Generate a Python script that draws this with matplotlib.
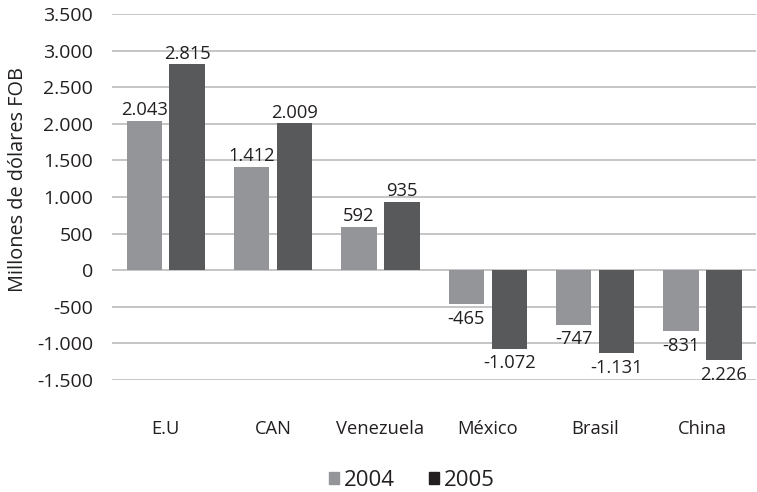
import matplotlib
matplotlib.use("Agg")
import matplotlib.pyplot as plt
import numpy as np
from matplotlib.patches import Patch

plt.rcParams['font.family'] = ['Open Sans', 'DejaVu Sans']

categories = ["E.U", "CAN", "Venezuela", "México", "Brasil", "China"]
values_2004 = [2043, 1412, 592, -465, -747, -831]
values_2005 = [2815, 2009, 935, -1072, -1131, -1226]
labels_2004 = ["2.043", "1.412", "592", "-465", "-747", "-831"]
labels_2005 = ["2.815", "2.009", "935", "-1.072", "-1.131", "2.226"]
yticks = [-1500, -1000, -500, 0, 500, 1000, 1500, 2000, 2500, 3000, 3500]
ytick_labels = ["-1.500", "-1.000", "-500", "0", "500", "1.000", "1.500",
                "2.000", "2.500", "3.000", "3.500"]
series_names = ["2004", "2005"]

c2004 = "#939598"
c2005 = "#58595b"
c2005_leg = "#231f20"
text_c = "#231f20"

fig = plt.figure(figsize=(7.57, 4.92), dpi=100)
ax = fig.add_axes([0.148, 0.2276, 0.851, 0.744])

x = np.arange(len(categories))
w = 0.33
off = 0.2
ax.bar(x - off, values_2004, width=w, color=c2004, zorder=3)
ax.bar(x + off, values_2005, width=w, color=c2005, zorder=3)

lab_fs = 13.2
for xs, vals, labs in ((x - off, values_2004, labels_2004), (x + off, values_2005, labels_2005)):
    for xi, v, lab in zip(xs, vals, labs):
        ax.annotate(lab, (xi, v), xytext=(0, 1 if v >= 0 else -4), textcoords="offset points",
                    ha="center", va="bottom" if v >= 0 else "top", fontsize=lab_fs, color=text_c)

ax.set_xlim(-0.5, len(categories) - 0.5)
ax.set_ylim(-1500, 3500)
ax.set_yticks(yticks)
ax.set_yticklabels(ytick_labels, fontsize=14, color=text_c)
ax.set_xticks(x)
ax.set_xticklabels(categories, fontsize=13.2, color=text_c)
ax.tick_params(axis="both", length=0)
ax.tick_params(axis="x", pad=29)
ax.tick_params(axis="y", pad=13.5)
ax.yaxis.grid(True, color="#b5b5b5", linewidth=1.1, zorder=0)
ax.set_axisbelow(True)
for s in ax.spines.values():
    s.set_visible(False)

fig.text(18.5 / 757, 1 - 180 / 492, "Millones de dólares FOB", rotation=90,
         ha="center", va="center", fontsize=14.3, color=text_c)

handles = [Patch(color=c2004), Patch(color=c2005_leg)]
fig.legend(handles, series_names, loc="center", bbox_to_anchor=(0.544, 0.024), ncol=2,
           frameon=False, fontsize=16, handlelength=0.45, handleheight=0.45,
           handletextpad=0.25, columnspacing=1.5, labelcolor=text_c,
           borderpad=0, borderaxespad=0)

fig.savefig("out.png", dpi=100)
